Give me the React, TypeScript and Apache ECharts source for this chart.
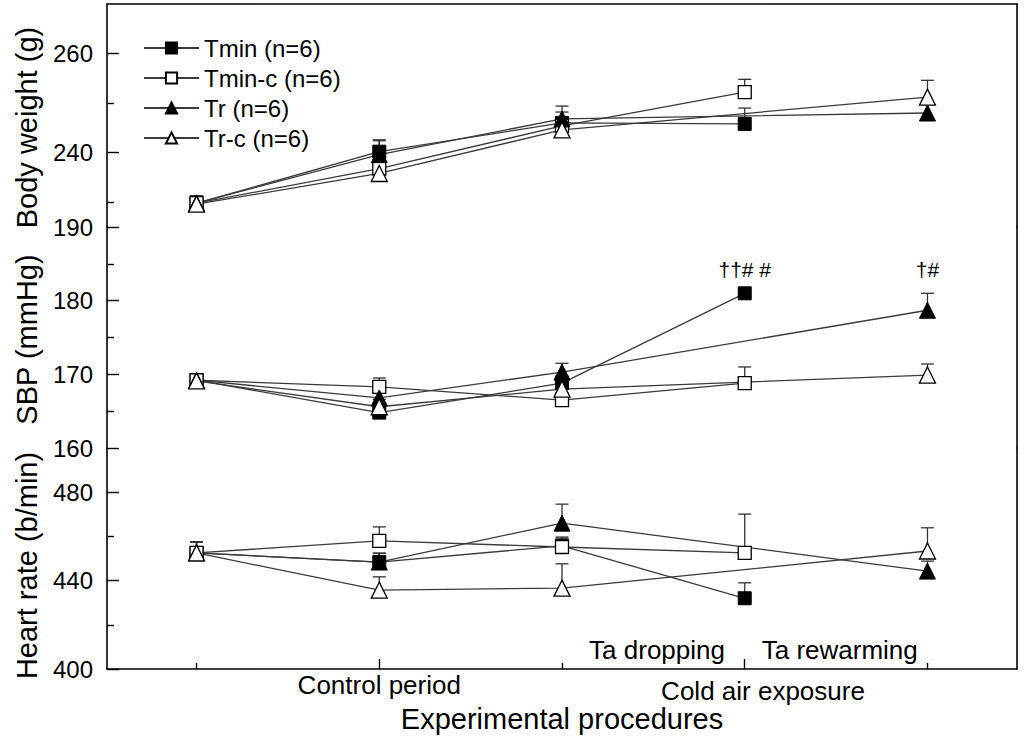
import React, { useEffect, useRef } from "react";
import * as echarts from "echarts";

// ---------- data ----------
const groups = ["Tmin (n=6)", "Tmin-c (n=6)", "Tr (n=6)", "Tr-c (n=6)"];
const xPositions = [0, 1, 2, 3, 4];
const xMajorTicks = [1, 3];
const xMinorTicks = [0, 2, 4];
const xCategoryLabels = ["Control period", "Cold air exposure"];
const xCategoryPos = [1, 3.1];
const xPhaseLabels = ["Ta dropping", "Ta rewarming"];
const xPhasePos = [2.52, 3.52];

// Body weight (g)
const bwTmin = [229.8, 240.2, 246.0, 245.8, null];
const bwTminC = [229.8, 236.8, 245.4, 252.2, null];
const bwTr = [229.8, 239.6, 246.8, null, 248.0];
const bwTrC = [229.6, 235.8, 244.6, null, 251.2];
const bwTminErr = [1.5, 2.2, 2.2, 3.2, null];
const bwTminCErr = [1.5, 1.8, 1.8, 2.6, null];
const bwTrErr = [1.5, 3.0, 2.6, null, 2.4];
const bwTrCErr = [1.5, 1.8, 1.8, null, 3.4];

// SBP (mmHg)
const sbpTmin = [169.2, 164.8, 168.8, 181.0, null];
const sbpTminC = [169.2, 168.3, 166.5, 168.8, null];
const sbpTr = [169.2, 166.8, 170.3, null, 178.7];
const sbpTrC = [169.1, 165.6, 168.0, null, 169.9];
const sbpTminErr = [0.8, 0.8, 1.0, 0, null];
const sbpTminCErr = [0.8, 1.2, 1.0, 2.2, null];
const sbpTrErr = [0.8, 1.0, 1.2, null, 2.3];
const sbpTrCErr = [0.8, 1.0, 1.0, null, 1.5];
const sbpTminNotes = [null, null, null, "††# #", null];
const sbpTrNotes = [null, null, null, null, "†#"];

// Heart rate (b/min)
const hrTmin = [452.5, 448.4, 455.7, 432.0, null];
const hrTminC = [452.5, 458.0, 455.2, 452.5, null];
const hrTr = [452.5, 448.4, 466.0, null, 444.3];
const hrTrC = [452.5, 435.7, 436.6, null, 453.4];
const hrTminErr = [5, 4, 4, 7, null];
const hrTminCErr = [5, 6.3, 4, 17.6, null];
const hrTrErr = [5, 4, 8.6, null, 4.5];
const hrTrCErr = [5, 6, 11, null, 10.5];

// axis ticks / labels
const bwRange = [225, 270];
const bwMajor = [240, 260];
const bwMinor = [230, 250];
const sbpRange = [160, 190];
const sbpMajor = [160, 170, 180, 190];
const sbpMinor = [165, 175, 185];
const hrRange = [400, 500];
const hrMajor = [400, 440, 480];
const hrMinor = [420, 460];

const FONT = "'Liberation Sans', Arial, sans-serif";

type Panel = {
  name: string;
  namePad: number[];
  range: number[];
  major: number[];
  minor: number[];
  values: (number | null)[][];
  errors: (number | null)[][];
  notes: (string | null)[][];
};

const panels: Panel[] = [
  {
    name: "Body weight (g)",
    namePad: [0, 24, 0, 0],
    range: bwRange,
    major: bwMajor,
    minor: bwMinor,
    values: [bwTmin, bwTminC, bwTr, bwTrC],
    errors: [bwTminErr, bwTminCErr, bwTrErr, bwTrCErr],
    notes: [[], [], [], []],
  },
  {
    name: "SBP (mmHg)",
    namePad: [0, 4, 0, 0],
    range: sbpRange,
    major: sbpMajor,
    minor: sbpMinor,
    values: [sbpTmin, sbpTminC, sbpTr, sbpTrC],
    errors: [sbpTminErr, sbpTminCErr, sbpTrErr, sbpTrCErr],
    notes: [sbpTminNotes, [], sbpTrNotes, []],
  },
  {
    name: "Heart rate (b/min)",
    namePad: [0, 14, 0, 0],
    range: hrRange,
    major: hrMajor,
    minor: hrMinor,
    values: [hrTmin, hrTminC, hrTr, hrTrC],
    errors: [hrTminErr, hrTminCErr, hrTrErr, hrTrCErr],
    notes: [[], [], [], []],
  },
];

const symbols = ["rect", "rect", "triangle", "triangle"];
const symbolSizes = [13, 13, 16, 16];
const filled = [true, false, true, false];

function buildOption() {
  const X_MIN = -0.49;
  const X_MAX = 4.49;
  const gridTops = [4, 227, 448];
  const gridHeights = [223, 221, 221];
  const axisColor = "#000";
  const grids = gridTops.map((t, i) => ({
    left: 107,
    width: 910,
    top: t,
    height: gridHeights[i],
    containLabel: false,
  }));

  const xAxes: any[] = [
    {
      type: "value",
      gridIndex: 0,
      position: "top",
      min: X_MIN,
      max: X_MAX,
      axisLine: { show: true, onZero: false, lineStyle: { color: axisColor, width: 1.6 } },
      axisTick: { show: false },
      axisLabel: { show: false },
      splitLine: { show: false },
    },
    {
      type: "value",
      gridIndex: 1,
      min: X_MIN,
      max: X_MAX,
      axisLine: { show: false },
      axisTick: { show: false },
      axisLabel: { show: false },
      splitLine: { show: false },
    },
    {
      type: "value",
      gridIndex: 2,
      position: "bottom",
      min: X_MIN,
      max: X_MAX,
      axisLine: { show: true, onZero: false, lineStyle: { color: axisColor, width: 1.6 } },
      axisTick: {
        show: true,
        inside: true,
        length: 10,
        customValues: xMajorTicks,
        lineStyle: { color: axisColor, width: 1.4 },
      },
      axisLabel: {
        show: true,
        customValues: xCategoryPos,
        margin: 3,
        color: "#000",
        fontSize: 26,
        fontFamily: FONT,
        formatter: (v: number) => {
          const i = xCategoryPos.findIndex((p) => Math.abs(p - v) < 1e-6);
          return i === 1 ? "{b|" + xCategoryLabels[i] + "}" : "{a|" + (xCategoryLabels[i] ?? "") + "}";
        },
        rich: {
          a: { fontSize: 26, fontFamily: FONT, color: "#000" },
          b: { fontSize: 26, fontFamily: FONT, color: "#000", padding: [6, 0, 0, 0] },
        },
      },
      splitLine: { show: false },
      name: "Experimental procedures",
      nameLocation: "middle",
      nameGap: 30,
      nameTextStyle: { fontSize: 29, fontFamily: FONT, color: "#000" },
    },
    {
      type: "value",
      gridIndex: 2,
      position: "bottom",
      min: X_MIN,
      max: X_MAX,
      axisLine: { show: false, onZero: false },
      axisTick: {
        show: true,
        inside: true,
        length: 6,
        customValues: xMinorTicks,
        lineStyle: { color: axisColor, width: 1.4 },
      },
      axisLabel: {
        show: true,
        inside: true,
        customValues: xPhasePos,
        margin: 6,
        color: "#000",
        fontSize: 26,
        fontFamily: FONT,
        formatter: (v: number) => {
          const i = xPhasePos.findIndex((p) => Math.abs(p - v) < 1e-6);
          return xPhaseLabels[i] ?? "";
        },
      },
      splitLine: { show: false },
    },
  ];

  const yAxes: any[] = [];
  // majors 0..2
  panels.forEach((p, i) => {
    yAxes.push({
      type: "value",
      gridIndex: i,
      position: "left",
      min: p.range[0],
      max: p.range[1],
      axisLine: { show: true, onZero: false, lineStyle: { color: axisColor, width: 1.6 } },
      axisTick: {
        show: true,
        inside: true,
        length: 12,
        customValues: p.major,
        lineStyle: { color: axisColor, width: 1.4 },
      },
      axisLabel: {
        show: true,
        customValues: p.major,
        margin: 14,
        color: "#000",
        fontSize: 24,
        fontFamily: FONT,
      },
      splitLine: { show: false },
      name: p.name,
      nameLocation: "middle",
      nameGap: 66,
      nameTextStyle: { fontSize: 29, fontFamily: FONT, color: "#000", padding: p.namePad },
    });
  });
  // minors 3..5
  panels.forEach((p, i) => {
    yAxes.push({
      type: "value",
      gridIndex: i,
      position: "left",
      min: p.range[0],
      max: p.range[1],
      axisLine: { show: false, onZero: false },
      axisTick: {
        show: true,
        inside: true,
        length: 7,
        customValues: p.minor,
        lineStyle: { color: axisColor, width: 1.4 },
      },
      axisLabel: { show: false },
      splitLine: { show: false },
    });
  });
  // right borders 6..8
  panels.forEach((p, i) => {
    yAxes.push({
      type: "value",
      gridIndex: i,
      position: "right",
      min: p.range[0],
      max: p.range[1],
      axisLine: { show: true, onZero: false, lineStyle: { color: axisColor, width: 1.6 } },
      axisTick: { show: false },
      axisLabel: { show: false },
      splitLine: { show: false },
    });
  });

  const series: any[] = [];
  panels.forEach((p, pi) => {
    groups.forEach((g, gi) => {
      const vals = p.values[gi];
      const notes = p.notes[gi] || [];
      const data: any[] = [];
      xPositions.forEach((x, k) => {
        const v = vals[k];
        if (v == null) return;
        const note = notes[k];
        if (note) {
          data.push({
            value: [x, v],
            label: {
              show: true,
              formatter: note,
              position: "top",
              distance: gi === 2 ? 22 : 6,
              fontSize: 21,
              fontFamily: FONT,
              color: "#000",
            },
          });
        } else {
          data.push([x, v]);
        }
      });
      series.push({
        type: "line",
        name: g,
        xAxisIndex: pi,
        yAxisIndex: pi,
        data,
        symbol: symbols[gi],
        symbolSize: symbolSizes[gi],
        showAllSymbol: true,
        z: 3,
        lineStyle: { color: "#3a3a3a", width: 1.3 },
        itemStyle: filled[gi]
          ? { color: "#000", borderColor: "#000", borderWidth: 1 }
          : { color: "#fff", borderColor: "#000", borderWidth: 1.3 },
        emphasis: { disabled: true },
      });
    });
  });
  // error bars
  panels.forEach((p, pi) => {
    groups.forEach((g, gi) => {
      const vals = p.values[gi];
      const errs = p.errors[gi];
      const data: number[][] = [];
      xPositions.forEach((x, k) => {
        const v = vals[k];
        const e = errs[k];
        if (v == null || e == null || e <= 0) return;
        data.push([x, v, e]);
      });
      series.push({
        type: "custom",
        name: "err-" + pi + "-" + gi,
        xAxisIndex: pi,
        yAxisIndex: pi,
        z: 2,
        encode: { x: 0, y: 1 },
        data,
        renderItem: (params: any, api: any) => {
          const x = api.value(0);
          const y = api.value(1);
          const e = api.value(2);
          const p0 = api.coord([x, y]);
          const p1 = api.coord([x, y + e]);
          const st = { stroke: "#333", lineWidth: 1.3 };
          return {
            type: "group",
            children: [
              { type: "line", shape: { x1: p0[0], y1: p0[1], x2: p1[0], y2: p1[1] }, style: st },
              { type: "line", shape: { x1: p1[0] - 6.5, y1: p1[1], x2: p1[0] + 6.5, y2: p1[1] }, style: st },
            ],
          };
        },
      });
    });
  });

  return {
    animation: false,
    backgroundColor: "#fff",
    grid: grids,
    xAxis: xAxes,
    yAxis: yAxes,
    legend: {
      data: groups,
      orient: "vertical",
      left: 138,
      top: 31,
      itemWidth: 55,
      itemHeight: 14,
      itemGap: 6,
      textStyle: { fontSize: 24, fontFamily: FONT, color: "#000" },
      selectedMode: false,
    },
    series,
  };
}

export default function App() {
  const ref = useRef<HTMLDivElement>(null);
  useEffect(() => {
    if (!ref.current) return;
    const chart = echarts.init(ref.current, undefined, { renderer: "svg" });
    chart.setOption(buildOption() as any);
    return () => chart.dispose();
  }, []);
  return (
    <div
      ref={ref}
      style={{ position: "fixed", left: 0, top: 0, width: 1024, height: 743, background: "#fff" }}
    />
  );
}
